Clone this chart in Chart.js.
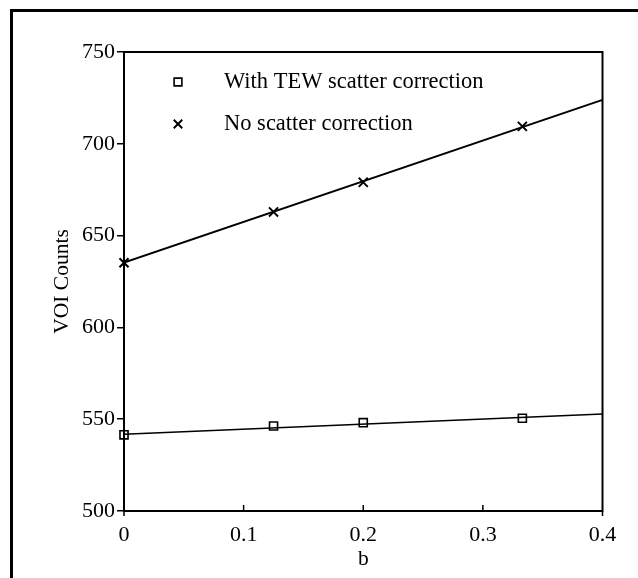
<!DOCTYPE html>
<html>
<head>
<meta charset="utf-8">
<script src="https://cdn.jsdelivr.net/npm/chart.js@4"></script>
<style>
  html, body { margin: 0; padding: 0; background: #fff; overflow: hidden; }
  #wrap { position: relative; width: 638px; height: 578px; }
  #frame { position: absolute; left: 10px; top: 9px; width: 700px; height: 700px;
           border-left: 3px solid #000; border-top: 3px solid #000; }
  canvas { position: absolute; left: 0; top: 0; }
</style>
</head>
<body>
<div id="wrap">
  <div id="frame"></div>
  <canvas id="chart" width="638" height="578"></canvas>
</div>
<script>
// valores
const bValues = [0, 0.125, 0.2, 0.333];
const tewCounts = [541.5, 546.3, 548.1, 550.5];
const noScatterCounts = [635.2, 662.9, 679.0, 709.5];
const fitB = [0, 0.4];
const tewFit = [541.8, 552.8];
const noScatterFit = [635.3, 723.9];
const seriesLabels = ['With TEW scatter correction', 'No scatter correction'];
const yTickValues = [500, 550, 600, 650, 700, 750];
const xTickValues = [0, 0.1, 0.2, 0.3, 0.4];

const toPoints = (xs, ys) => xs.map((x, i) => ({ x: x, y: ys[i] }));
const FONT = '"Liberation Serif", "Times New Roman", serif';

// recuadro del área de trazado, marcas del eje x y leyenda interna
const boxAndLegend = {
  id: 'boxAndLegend',
  afterDraw(chart) {
    const { ctx, chartArea: a } = chart;
    const xs = chart.scales.x;
    ctx.save();
    ctx.strokeStyle = '#000';
    ctx.lineWidth = 2;
    ctx.strokeRect(a.left, a.top, a.right - a.left, a.bottom - a.top);

    // marcas: hacia dentro en los valores intermedios, hacia fuera en los extremos
    ctx.lineWidth = 1.5;
    xTickValues.forEach((v, i) => {
      const px = xs.getPixelForValue(v);
      const edge = i === 0 || i === xTickValues.length - 1;
      ctx.beginPath();
      ctx.moveTo(px, a.bottom);
      ctx.lineTo(px, edge ? a.bottom + 5 : a.bottom - 6);
      ctx.stroke();
    });

    const styles = ['rect', 'crossRot'];
    const radii = [5.5, 6];
    const rows = [82, 124];
    ctx.font = '22.5px ' + FONT;
    ctx.textBaseline = 'middle';
    rows.forEach((y, i) => {
      ctx.fillStyle = '#fff';
      ctx.strokeStyle = '#000';
      ctx.lineWidth = i === 0 ? 1.6 : 2;
      Chart.helpers.drawPoint(ctx, { pointStyle: styles[i], radius: radii[i], rotation: 0, borderWidth: ctx.lineWidth }, 178, y);
      ctx.fillStyle = '#000';
      ctx.fillText(seriesLabels[i], 224, y);
    });
    ctx.restore();
  }
};

new Chart(document.getElementById('chart').getContext('2d'), {
  type: 'scatter',
  data: {
    datasets: [
      {
        label: seriesLabels[0] + ' fit',
        data: toPoints(fitB, tewFit),
        showLine: true,
        borderColor: '#000',
        borderWidth: 1.6,
        pointRadius: 0
      },
      {
        label: seriesLabels[1] + ' fit',
        data: toPoints(fitB, noScatterFit),
        showLine: true,
        borderColor: '#000',
        borderWidth: 2,
        pointRadius: 0
      },
      {
        label: seriesLabels[0],
        data: toPoints(bValues, tewCounts),
        pointStyle: 'rect',
        pointRadius: 5.7,
        borderColor: '#000',
        backgroundColor: '#fff',
        borderWidth: 1.6,
        clip: false
      },
      {
        label: seriesLabels[1],
        data: toPoints(bValues, noScatterCounts),
        pointStyle: 'crossRot',
        pointRadius: 6.4,
        borderColor: '#000',
        borderWidth: 2,
        clip: false
      }
    ]
  },
  options: {
    responsive: false,
    animation: false,
    layout: { padding: { left: 0, top: 52, right: 35.5, bottom: 0 } },
    plugins: { legend: { display: false }, tooltip: { enabled: false } },
    scales: {
      x: {
        type: 'linear',
        min: 0,
        max: 0.4,
        afterBuildTicks: s => { s.ticks = xTickValues.map(v => ({ value: v })); },
        afterFit: s => { s.height = 67; },
        grid: { display: false, drawTicks: false },
        border: { display: false },
        ticks: {
          color: '#000',
          font: { family: FONT, size: 22 },
          padding: 11,
          maxRotation: 0,
          callback: v => v === 0 ? '0' : Number(v).toFixed(1)
        },
        title: {
          display: true,
          text: 'b',
          color: '#000',
          font: { family: FONT, size: 21.5 },
          padding: { top: 0, bottom: 6 }
        }
      },
      y: {
        type: 'linear',
        min: 500,
        max: 750,
        afterBuildTicks: s => { s.ticks = yTickValues.map(v => ({ value: v })); },
        afterFit: s => { s.width = 124; },
        grid: { drawOnChartArea: false, color: '#000', tickLength: 7, lineWidth: 1.5 },
        border: { display: false },
        ticks: {
          color: '#000',
          font: { family: FONT, size: 22 },
          padding: 2
        },
        title: {
          display: true,
          text: 'VOI Counts',
          color: '#000',
          font: { family: FONT, size: 21.5 },
          padding: { top: 49, bottom: 0 }
        }
      }
    }
  },
  plugins: [boxAndLegend]
});
</script>
</body>
</html>
